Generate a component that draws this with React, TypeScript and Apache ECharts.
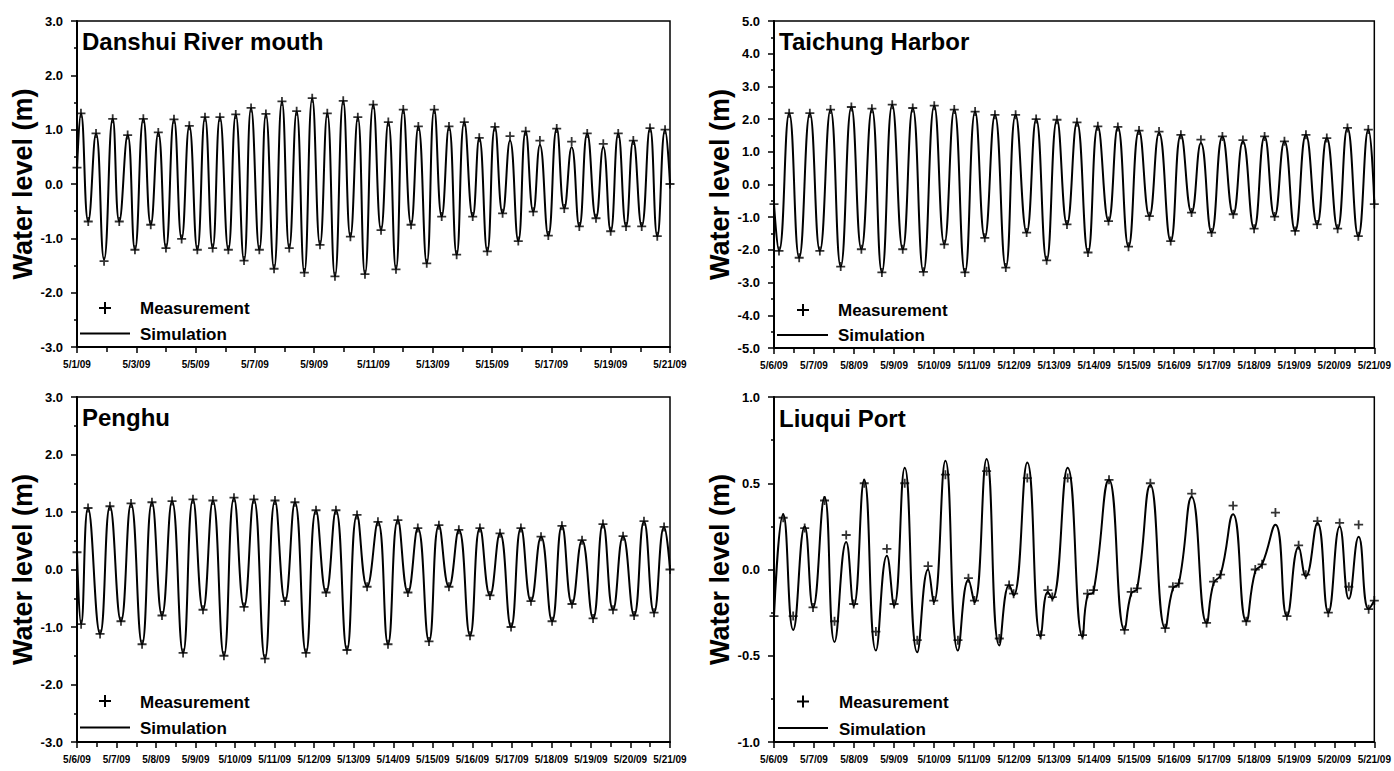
import React, { useEffect, useRef } from 'react';
import * as echarts from 'echarts';

// ---------- DATA (hours since the first day shown, water level in m) ----------
// Danshui River mouth, 5/1/09 - 5/21/09 (tidal highs and lows)
const danshuiTime = [0, 3.2, 9.1, 15.4, 21.9, 28.9, 34.2, 41.0, 46.9, 53.7, 59.7, 65.8, 72.0, 78.5, 84.7, 90.9, 97.4, 103.6, 109.8, 115.7, 122.5, 128.5, 135.2, 140.9, 147.6, 152.9, 159.5, 165.9, 171.8, 177.8, 184.0, 190.4, 196.7, 202.6, 208.8, 215.5, 221.3, 227.3, 233.1, 239.8, 246.1, 252.0, 258.2, 264.1, 270.4, 276.3, 283.1, 289.2, 295.2, 301.1, 307.3, 313.5, 320.3, 325.6, 332.1, 338.3, 344.5, 350.5, 357.2, 363.2, 369.3, 374.7, 381.5, 388.3, 394.4, 400.4, 406.6, 413.0, 420.1, 426.0, 432.0, 438.1, 444.4, 450.3, 457.1, 463.8, 469.7, 476.0, 480];
const danshuiSim = [0.25, 1.30, -0.69, 0.93, -1.39, 1.20, -0.69, 0.90, -1.21, 1.20, -0.75, 0.95, -1.18, 1.19, -1.01, 1.07, -1.21, 1.23, -1.18, 1.23, -1.21, 1.28, -1.41, 1.40, -1.21, 1.29, -1.56, 1.52, -1.18, 1.34, -1.63, 1.58, -1.12, 1.30, -1.70, 1.53, -0.97, 1.23, -1.66, 1.46, -0.85, 1.14, -1.57, 1.37, -0.75, 1.06, -1.46, 1.37, -0.60, 1.06, -1.30, 1.14, -0.60, 0.85, -1.24, 1.05, -0.54, 0.80, -1.05, 0.97, -0.51, 0.72, -0.95, 1.02, -0.45, 0.68, -0.78, 0.93, -0.63, 0.68, -0.87, 0.93, -0.78, 0.80, -0.78, 1.03, -0.96, 1.00, 0.0];
const danshuiObs = [0.30, 1.30, -0.69, 0.93, -1.42, 1.20, -0.69, 0.90, -1.21, 1.20, -0.75, 0.95, -1.18, 1.19, -1.01, 1.07, -1.21, 1.23, -1.18, 1.23, -1.21, 1.28, -1.41, 1.40, -1.21, 1.29, -1.56, 1.52, -1.18, 1.34, -1.63, 1.58, -1.12, 1.30, -1.70, 1.53, -0.97, 1.23, -1.66, 1.46, -0.85, 1.14, -1.57, 1.37, -0.75, 1.06, -1.46, 1.37, -0.60, 1.06, -1.30, 1.14, -0.60, 0.85, -1.24, 1.05, -0.54, 0.88, -1.05, 0.97, -0.51, 0.80, -0.95, 1.02, -0.45, 0.78, -0.78, 0.93, -0.63, 0.74, -0.87, 0.93, -0.78, 0.80, -0.78, 1.03, -0.96, 1.00, 0.0];

// Taichung Harbor, 5/6/09 - 5/21/09
const taichungTime = [0, 3.0, 9.1, 15.1, 21.5, 27.5, 33.9, 40.0, 46.4, 52.4, 58.7, 64.7, 70.9, 77.2, 83.2, 89.6, 96.1, 102.1, 108.1, 114.5, 120.6, 126.4, 132.5, 139.0, 144.9, 151.5, 157.2, 163.5, 169.7, 175.7, 181.7, 188.3, 194.2, 200.6, 206.2, 212.6, 218.9, 225.1, 230.9, 237.9, 244.0, 250.4, 256.0, 262.4, 268.9, 275.4, 281.2, 287.9, 294.2, 300.2, 306.1, 312.5, 319.0, 325.7, 331.5, 338.0, 343.9, 350.4, 356.4, 360];
const taichungSim = [-0.6, -2.03, 2.18, -2.24, 2.18, -2.03, 2.29, -2.51, 2.37, -1.98, 2.32, -2.69, 2.44, -1.98, 2.34, -2.67, 2.41, -1.83, 2.29, -2.69, 2.23, -1.63, 2.13, -2.54, 2.13, -1.47, 2.00, -2.32, 1.98, -1.22, 1.90, -2.08, 1.78, -1.12, 1.76, -1.90, 1.65, -0.97, 1.58, -1.73, 1.52, -0.86, 1.27, -1.47, 1.47, -0.91, 1.32, -1.35, 1.47, -0.98, 1.32, -1.42, 1.52, -1.22, 1.42, -1.35, 1.73, -1.58, 1.68, -0.6];
const taichungObs = [-0.6, -2.03, 2.18, -2.24, 2.18, -2.03, 2.29, -2.51, 2.37, -1.98, 2.32, -2.69, 2.44, -1.98, 2.34, -2.67, 2.41, -1.83, 2.29, -2.69, 2.23, -1.63, 2.13, -2.54, 2.13, -1.47, 2.00, -2.32, 1.98, -1.22, 1.90, -2.08, 1.78, -1.12, 1.76, -1.90, 1.65, -0.97, 1.62, -1.73, 1.52, -0.86, 1.37, -1.47, 1.47, -0.91, 1.36, -1.35, 1.47, -0.98, 1.32, -1.42, 1.52, -1.22, 1.42, -1.35, 1.73, -1.58, 1.68, -0.6];

// Penghu, 5/6/09 - 5/21/09
const penghuTime = [0, 2.5, 6.7, 14.0, 20.0, 26.7, 32.8, 39.5, 45.5, 51.6, 57.7, 64.4, 70.4, 76.5, 82.5, 89.2, 95.3, 101.4, 107.4, 114.1, 120.2, 126.3, 132.3, 139.0, 145.1, 151.2, 157.2, 163.9, 170.0, 176.1, 182.7, 188.8, 194.8, 200.9, 206.9, 213.7, 219.7, 225.8, 231.8, 238.6, 244.6, 250.7, 256.8, 263.5, 269.5, 275.6, 281.7, 288.4, 294.4, 300.5, 306.6, 313.3, 319.3, 325.4, 331.5, 338.2, 344.2, 350.3, 356.4, 360];
const penghuSim = [0.30, -0.95, 1.07, -1.12, 1.10, -0.90, 1.15, -1.30, 1.17, -0.80, 1.19, -1.45, 1.22, -0.70, 1.20, -1.50, 1.25, -0.65, 1.22, -1.55, 1.20, -0.55, 1.17, -1.45, 1.03, -0.40, 1.03, -1.40, 0.95, -0.30, 0.83, -1.30, 0.86, -0.40, 0.72, -1.25, 0.77, -0.30, 0.69, -1.15, 0.72, -0.45, 0.63, -1.00, 0.72, -0.55, 0.57, -0.90, 0.76, -0.60, 0.51, -0.85, 0.79, -0.70, 0.58, -0.80, 0.84, -0.75, 0.74, 0.0];
const penghuObs = [0.30, -0.95, 1.07, -1.12, 1.10, -0.90, 1.15, -1.30, 1.17, -0.80, 1.19, -1.45, 1.22, -0.70, 1.20, -1.50, 1.25, -0.65, 1.22, -1.55, 1.20, -0.55, 1.17, -1.45, 1.03, -0.40, 1.03, -1.40, 0.95, -0.30, 0.83, -1.30, 0.86, -0.40, 0.72, -1.25, 0.77, -0.30, 0.69, -1.15, 0.72, -0.45, 0.63, -1.00, 0.72, -0.55, 0.57, -0.90, 0.76, -0.60, 0.51, -0.85, 0.79, -0.70, 0.58, -0.80, 0.84, -0.75, 0.74, 0.0];

// Liuqui Port, 5/6/09 - 5/21/09 (highs, lows and the small shoulders between them)
const liuquiTime = [0, 5.5, 11.5, 18.4, 23.4, 30.3, 36.3, 43.3, 47.8, 54.1, 61.1, 67.7, 72.0, 78.4, 85.9, 92.4, 95.8, 102.8, 110.3, 116.6, 120.2, 127.5, 135.1, 141.0, 143.7, 151.9, 159.9, 164.2, 166.9, 176.1, 185.0, 188.0, 191.6, 200.9, 210.2, 214.2, 217.8, 225.7, 234.6, 239.2, 242.8, 250.5, 259.4, 263.6, 267.8, 275.3, 283.2, 288.6, 292.7, 300.7, 307.6, 314.6, 318.9, 325.9, 332.4, 339.2, 344.7, 350.6, 356.6, 360];
const liuquiSim = [-0.27, 0.32, -0.35, 0.25, -0.22, 0.42, -0.42, 0.16, -0.21, 0.52, -0.47, 0.08, -0.21, 0.59, -0.48, 0.0, -0.19, 0.63, -0.47, -0.06, -0.19, 0.64, -0.44, -0.09, -0.15, 0.62, -0.39, -0.13, -0.17, 0.59, -0.39, -0.15, -0.13, 0.52, -0.35, -0.14, -0.11, 0.49, -0.34, -0.11, -0.08, 0.42, -0.31, -0.08, -0.03, 0.32, -0.30, -0.01, 0.03, 0.26, -0.27, 0.13, -0.04, 0.27, -0.25, 0.25, -0.17, 0.19, -0.23, -0.18];
const liuquiObs = [-0.27, 0.30, -0.27, 0.24, -0.22, 0.40, -0.30, 0.20, -0.20, 0.50, -0.36, 0.12, -0.20, 0.50, -0.41, 0.02, -0.18, 0.55, -0.41, -0.05, -0.18, 0.57, -0.40, -0.09, -0.14, 0.53, -0.38, -0.12, -0.16, 0.53, -0.38, -0.14, -0.12, 0.52, -0.35, -0.13, -0.11, 0.50, -0.34, -0.10, -0.08, 0.44, -0.31, -0.07, -0.03, 0.37, -0.30, 0.0, 0.03, 0.33, -0.27, 0.14, -0.03, 0.28, -0.25, 0.27, -0.10, 0.26, -0.23, -0.18];

const titles = ['Danshui River mouth', 'Taichung Harbor', 'Penghu', 'Liuqui Port'];
const startDays = [1, 6, 6, 6];
const yRanges = [[-3, 3, 1], [-5, 5, 1], [-3, 3, 1], [-1, 1, 0.5]];
const xRanges = [[480, 48], [360, 24], [360, 24], [360, 24]];
const legendNames = ['Measurement', 'Simulation'];
const yAxisTitle = 'Water level (m)';

// ---------- LAYOUT ----------
const FONT = 'Arial, "Liberation Sans", Helvetica, sans-serif';
const PLUS = 'path://M4,0H6V4H10V6H6V10H4V6H0V4H4Z';

const layouts = [
  { grid: { left: 77, top: 21, width: 593, height: 326 }, titleTop: 29, lg: { px: 105, py: 308, lx1: 80, lx2: 130, ly: 333.5, tx: 140, mTop: 300, sTop: 325.5 } },
  { grid: { left: 774, top: 21, width: 604, height: 327 }, titleTop: 29, lg: { px: 803, py: 310, lx1: 777, lx2: 828, ly: 335, tx: 838, mTop: 301.5, sTop: 327 } },
  { grid: { left: 77, top: 397, width: 593, height: 345 }, titleTop: 405, lg: { px: 105, py: 701, lx1: 80, lx2: 130, ly: 727.5, tx: 140, mTop: 693.5, sTop: 719.5 } },
  { grid: { left: 774, top: 397, width: 604, height: 345 }, titleTop: 406, lg: { px: 803, py: 701.5, lx1: 778, lx2: 828, ly: 728, tx: 839, mTop: 694, sTop: 720.5 } },
];

function buildOption() {
  const times = [danshuiTime, taichungTime, penghuTime, liuquiTime];
  const sims = [danshuiSim, taichungSim, penghuSim, liuquiSim];
  const obss = [danshuiObs, taichungObs, penghuObs, liuquiObs];
  const grid: any[] = [];
  const xAxis: any[] = [];
  const yAxis: any[] = [];
  const series: any[] = [];
  const graphic: any[] = [];

  for (let i = 0; i < 4; i++) {
    const L = layouts[i];
    grid.push({ ...L.grid, show: true, borderColor: '#000', borderWidth: 1.5, backgroundColor: 'transparent' });
    const sd = startDays[i];
    xAxis.push({
      type: 'value', gridIndex: i, min: 0, max: xRanges[i][0], interval: xRanges[i][1],
      axisLine: { show: true, onZero: false, lineStyle: { color: '#000', width: 2 } },
      axisTick: { show: true, length: 6, lineStyle: { color: '#000', width: 1.5 } },
      minorTick: { show: true, splitNumber: 2, length: 5, lineStyle: { color: '#000', width: 1.5 } },
      splitLine: { show: false }, minorSplitLine: { show: false },
      axisLabel: {
        color: '#000', fontSize: 10, fontWeight: 'bold', fontFamily: FONT, margin: 12,
        showMinLabel: true, showMaxLabel: true,
        formatter: (v: number) => '5/' + (sd + Math.round(v / 24)) + '/09',
      },
    });
    const [ymin, ymax, yint] = yRanges[i];
    yAxis.push({
      type: 'value', gridIndex: i, min: ymin, max: ymax, interval: yint,
      name: yAxisTitle, nameLocation: 'middle', nameGap: 40,
      nameTextStyle: { color: '#000', fontSize: 27, fontWeight: 'bold', fontFamily: FONT },
      axisLine: { show: true, onZero: false, lineStyle: { color: '#000', width: 2 } },
      axisTick: { show: true, length: 6, lineStyle: { color: '#000', width: 1.5 } },
      minorTick: { show: true, splitNumber: 2, length: 3, lineStyle: { color: '#000', width: 1.5 } },
      splitLine: { show: false }, minorSplitLine: { show: false },
      axisLabel: { color: '#000', fontSize: 13, fontWeight: 'bold', fontFamily: FONT, margin: 14, formatter: (v: number) => v.toFixed(1) },
    });
    const t = times[i];
    series.push({
      type: 'line', name: legendNames[1], xAxisIndex: i, yAxisIndex: i,
      data: t.map((h, k) => [h, sims[i][k]]), smooth: 0.5, symbol: 'none',
      lineStyle: { color: '#000', width: 2 }, z: 2, silent: true,
    });
    series.push({
      type: 'scatter', name: legendNames[0], xAxisIndex: i, yAxisIndex: i,
      data: t.map((h, k) => [h, obss[i][k]]), symbol: PLUS, symbolSize: 9,
      itemStyle: { color: '#000' }, z: 3, silent: true,
    });

    // title inside the plot
    graphic.push({ type: 'text', left: L.grid.left + 5, top: L.titleTop, style: { text: titles[i], font: `bold 24px ${FONT}`, fill: '#000' } });
    // legend
    const g = L.lg;
    graphic.push({ type: 'line', shape: { x1: g.px - 6, y1: g.py, x2: g.px + 6, y2: g.py }, style: { stroke: '#000', lineWidth: 2 } });
    graphic.push({ type: 'line', shape: { x1: g.px, y1: g.py - 6, x2: g.px, y2: g.py + 6 }, style: { stroke: '#000', lineWidth: 2 } });
    graphic.push({ type: 'line', shape: { x1: g.lx1, y1: g.ly, x2: g.lx2, y2: g.ly }, style: { stroke: '#000', lineWidth: 2 } });
    graphic.push({ type: 'text', left: g.tx, top: g.mTop, style: { text: legendNames[0], font: `bold 17px ${FONT}`, fill: '#000' } });
    graphic.push({ type: 'text', left: g.tx, top: g.sTop, style: { text: legendNames[1], font: `bold 17px ${FONT}`, fill: '#000' } });
  }

  return { animation: false, backgroundColor: '#fff', grid, xAxis, yAxis, series, graphic };
}

export default function App() {
  const ref = useRef<HTMLDivElement>(null);
  useEffect(() => {
    const chart = echarts.init(ref.current!, null, { renderer: 'svg' });
    chart.setOption(buildOption());
    return () => chart.dispose();
  }, []);
  return <div ref={ref} style={{ position: 'absolute', left: 0, top: 0, width: 1394, height: 771, background: '#fff' }} />;
}
